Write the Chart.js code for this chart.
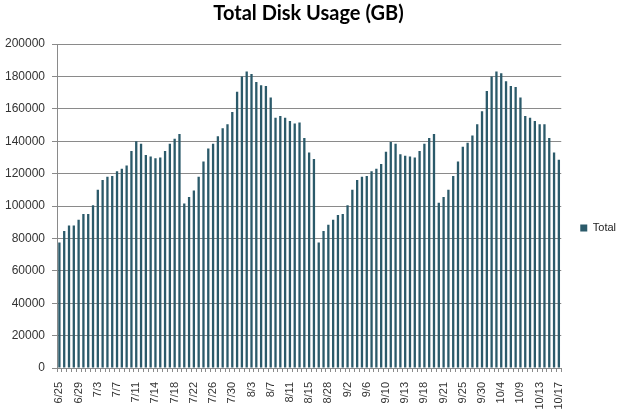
<!DOCTYPE html>
<html>
<head>
<meta charset="utf-8">
<script src="https://cdn.jsdelivr.net/npm/chart.js@4.4.1/dist/chart.umd.min.js"></script>
<style>
  body { margin: 0; background: #fff; }
  #wrap { width: 623px; height: 412px; }
</style>
</head>
<body>
<div id="wrap"><canvas id="diskChart" width="623" height="412"></canvas></div>
<script>
// tick labels shown under every 4th bar
const tickLabels = ['6/25', '6/29', '7/3', '7/7', '7/11', '7/14', '7/18', '7/22', '7/26',
  '7/30', '8/3', '8/7', '8/11', '8/15', '8/28', '9/2', '9/6', '9/10', '9/13', '9/18',
  '9/21', '9/25', '9/30', '10/4', '10/9', '10/13', '10/17'];

// total usage per sample (GB)
const totalGB = [
  77500, 84500, 88000, 88000, 91500, 95000, 95000, 100500, 110000, 116000,
  118000, 118500, 121500, 123000, 125000, 134000, 140000, 138500, 131500, 130500,
  129500, 130000, 134000, 138500, 141500, 144500, 101500, 105500, 109500, 118000,
  127500, 135500, 138500, 143000, 148000, 150500, 158000, 170500, 180000, 183000,
  181500, 176500, 174500, 174000, 167000, 154500, 155500, 154500, 152500, 151000,
  151500, 142000, 133000, 129000, 77500, 84500, 88500, 91500, 94500, 95000,
  100500, 110000, 116000, 118000, 118500, 121500, 123000, 126000, 133500, 139500,
  138500, 132000, 131000, 130500, 130000, 134000, 138500, 142000, 144500, 102000,
  105500, 110000, 118500, 127500, 136500, 139000, 143500, 150500, 158500, 171000,
  180000, 183000, 182000, 177000, 174000, 173500, 167000, 155500, 154500, 152500,
  150500, 150500, 142000, 133000, 128500
];

const categories = totalGB.map((v, i) => (i % 4 === 0 ? tickLabels[i / 4] : ''));

const barColor = '#2b5a6a';
const gridColor = '#8a8a8a';

// the legend sits a bit lower and further right than chart.js puts it
const legendShift = {
  id: 'legendShift',
  afterLayout(chart) {
    const lg = chart.legend;
    lg.top += 22; lg.bottom += 22;
    lg.left += 9; lg.right += 9;
  }
};

const ctx = document.getElementById('diskChart').getContext('2d');
new Chart(ctx, {
  type: 'bar',
  data: {
    labels: categories,
    datasets: [{
      label: 'Total',
      data: totalGB,
      backgroundColor: barColor,
      barPercentage: 0.48,
      categoryPercentage: 1
    }]
  },
  plugins: [legendShift],
  options: {
    responsive: false,
    animation: false,
    devicePixelRatio: 1,
    layout: { padding: { right: 6 } },
    plugins: {
      title: {
        display: true,
        text: 'Total Disk Usage (GB)',
        color: '#000',
        font: { family: 'Lato', size: 20, weight: 'bold' },
        padding: { top: 2, bottom: 18 }
      },
      legend: {
        position: 'right',
        labels: {
          boxWidth: 7,
          boxHeight: 7,
          padding: 10,
          color: '#222',
          font: { family: 'Liberation Sans', size: 11 }
        }
      },
      tooltip: { enabled: false }
    },
    scales: {
      x: {
        afterFit: (scale) => { scale.height = 44; },
        grid: { display: true, drawOnChartArea: false, drawTicks: true, tickLength: 4, color: gridColor, offset: true },
        border: { display: true, color: gridColor },
        ticks: {
          autoSkip: false,
          minRotation: 90,
          maxRotation: 90,
          padding: 10,
          color: '#333',
          font: { family: 'Liberation Sans', size: 11 }
        }
      },
      y: {
        min: 0,
        max: 200000,
        afterFit: (scale) => { scale.width = 57; },
        grid: { color: gridColor, tickLength: 5 },
        border: { display: true, color: gridColor },
        ticks: {
          stepSize: 20000,
          padding: 7,
          color: '#333',
          font: { family: 'Liberation Sans', size: 12 },
          callback: (v) => String(v)
        }
      }
    }
  }
});
</script>
</body>
</html>
